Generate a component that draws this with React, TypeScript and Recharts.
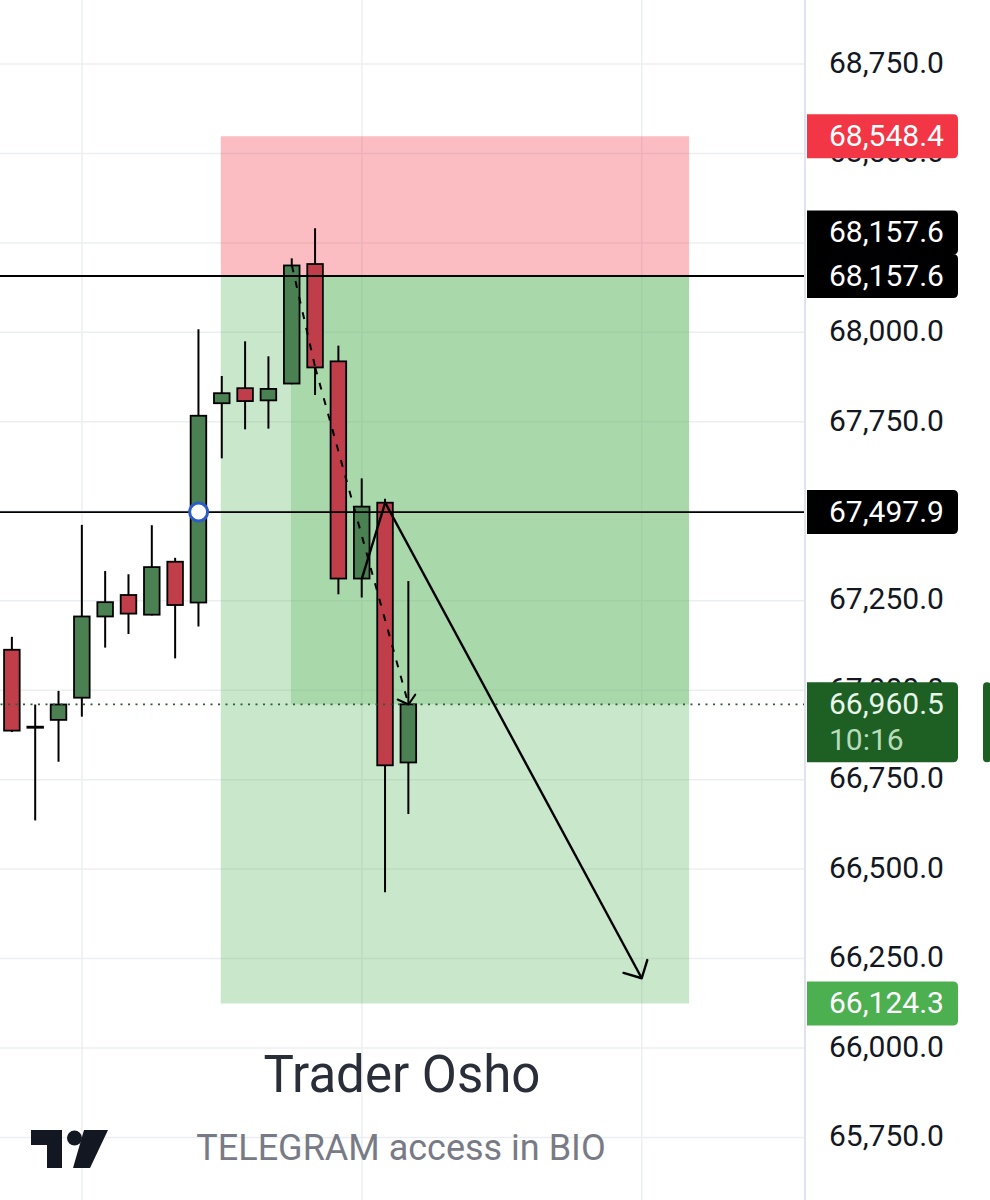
import React from 'react';
import {
  ComposedChart,
  Bar,
  XAxis,
  YAxis,
  CartesianGrid,
  ReferenceArea,
  ReferenceLine,
  ReferenceDot,
} from 'recharts';

// ---------- data ----------
const BAR_INDEX = [0, 1, 2, 3, 4, 5, 6, 7, 8, 9, 10, 11, 12, 13, 14, 15, 16, 17];
const OPEN = [67113, 66898, 66917, 66979, 67206, 67266, 67211, 67359, 67245, 67802, 67844, 67810, 67857, 68191, 67919, 67312, 67524, 66798];
const HIGH = [67149, 66960, 66998, 67462, 67333, 67324, 67461, 67370, 68009, 67878, 67975, 67933, 68207, 68291, 67963, 67592, 67535, 67305];
const LOW = [66883, 66636, 66800, 66926, 67119, 67157, 67209, 67089, 67178, 67648, 67729, 67731, 67855, 67825, 67268, 67259, 66435, 66654];
const CLOSE = [66887, 66895, 66960, 67206, 67246, 67214, 67344, 67238, 67767, 67830, 67808, 67842, 68187, 67902, 67312, 67513, 66790, 66960.5];

const Y_TICKS = [65750, 66000, 66250, 66500, 66750, 67000, 67250, 67500, 67750, 68000, 68250, 68500, 68750];
const GRID_X = [3, 15, 27];
const X_DOMAIN = [-0.516, 34.0];
const Y_DOMAIN = [65575.2, 68928.9];

const STOP_PRICE = 68548.4;
const ENTRY_PRICE = 68157.6;
const LEVEL_PRICE = 67497.9;
const CURRENT_PRICE = 66960.5;
const TARGET_PRICE = 66124.3;
const COUNTDOWN = '10:16';

const BOX_START = 8.95;
const BOX_END = 29.03;
const PROFIT_START = 11.96;

const DASHED_PATH = [
  { x: 12, y: 68187 },
  { x: 13, y: 67902 },
  { x: 17, y: 66960 },
];
const SOLID_PATH = [
  { x: 15, y: 67312 },
  { x: 16, y: 67524 },
  { x: 27, y: 66195 },
];
const MARKER = { x: 8, y: LEVEL_PRICE };

const TITLE = 'Trader Osho';
const SUBTITLE = 'TELEGRAM access in BIO';

// ---------- helpers ----------
const fmt = (v: number) => {
  const [i, d] = v.toFixed(1).split('.');
  return i.replace(/\B(?=(\d{3})+(?!\d))/g, ',') + '.' + d;
};

const GREEN = '#4a8052';
const RED = '#c03e4a';
const FONT = 'Roboto, "Noto Sans", sans-serif';
const AXIS_W = 185;

const data = BAR_INDEX.map((i, k) => ({
  i,
  o: OPEN[k],
  h: HIGH[k],
  l: LOW[k],
  c: CLOSE[k],
  hl: [LOW[k], HIGH[k]],
}));

const Candle = (props: any) => {
  const { x, y, width, height, payload } = props;
  if (x == null || y == null) return null;
  const cx = x + width / 2;
  const { o, h, l, c } = payload;
  const topPix = Math.min(y, y + height);
  const botPix = Math.max(y, y + height);
  const span = h - l || 1;
  const yAt = (v: number) => topPix + ((h - v) / span) * (botPix - topPix);
  const bTop = yAt(Math.max(o, c));
  const bBot = yAt(Math.min(o, c));
  const up = c >= o;
  return (
    <g>
      <line x1={cx} x2={cx} y1={topPix} y2={botPix} stroke="#000" strokeWidth={2} />
      <rect
        x={cx - 7.8}
        y={bTop}
        width={15.6}
        height={Math.max(bBot - bTop, 0.8)}
        fill={up ? GREEN : RED}
        stroke="#000"
        strokeWidth={1.8}
      />
    </g>
  );
};

const arrowShape = (dashed: boolean, head: number, spread: number, width: number) => (props: any) => {
  const { x1, y1, x2, y2 } = props;
  const ang = Math.atan2(y2 - y1, x2 - x1);
  const h1x = x2 - head * Math.cos(ang - spread);
  const h1y = y2 - head * Math.sin(ang - spread);
  const h2x = x2 - head * Math.cos(ang + spread);
  const h2y = y2 - head * Math.sin(ang + spread);
  return (
    <g>
      <line
        x1={x1}
        y1={y1}
        x2={x2}
        y2={y2}
        stroke="#000"
        strokeWidth={width}
        strokeDasharray={dashed ? '7 9' : undefined}
      />
      {head > 0 && (
        <polyline
          points={`${h1x},${h1y} ${x2},${y2} ${h2x},${h2y}`}
          fill="none"
          stroke="#000"
          strokeWidth={width}
          strokeLinecap="round"
          strokeLinejoin="round"
        />
      )}
    </g>
  );
};

const tagPath = (x0: number, y0: number, w: number, h: number, r: number) =>
  `M${x0},${y0} H${x0 + w - r} Q${x0 + w},${y0} ${x0 + w},${y0 + r} V${y0 + h - r} Q${x0 + w},${y0 + h} ${x0 + w - r},${y0 + h} H${x0} Z`;

const AxisTag = (props: any) => {
  const { viewBox, lines, fill, dy = 0, height = 44, colors, sideBar } = props;
  if (!viewBox) return null;
  const right = Math.max(viewBox.x, viewBox.x + viewBox.width);
  const y = viewBox.y + dy;
  const x0 = right + 2;
  const w = 151;
  const top = y - 22;
  return (
    <g>
      <path d={tagPath(x0, top, w, height, 5)} fill={fill} />
      {sideBar && <rect x={x0 + 176} y={top} width={8} height={height} rx={4} fill={fill} />}
      {lines.map((t: string, k: number) => (
        <text
          key={k}
          x={x0 + 22}
          y={y + k * 36}
          dy="0.33em"
          fontSize={30}
          fontFamily={FONT}
          fill={colors ? colors[k] : '#ffffff'}
        >
          {t}
        </text>
      ))}
    </g>
  );
};

const renderTick = (props: any) => {
  const { x, y, payload } = props;
  return (
    <text x={x} y={y} dy="0.29em" fontSize={30} fontFamily={FONT} fill="#131722" textAnchor="start">
      {fmt(payload.value)}
    </text>
  );
};

export default function App() {
  return (
    <div
      style={{
        position: 'absolute',
        left: 0,
        top: 0,
        width: 990,
        height: 1200,
        background: '#ffffff',
        overflow: 'hidden',
        fontFamily: FONT,
      }}
    >
      {/* main chart */}
      <ComposedChart
        width={990}
        height={1200}
        data={data}
        margin={{ top: 0, right: 0, bottom: 0, left: 0 }}
      >
        <CartesianGrid
          stroke="#eceef1"
          strokeWidth={1.5}
          horizontalValues={Y_TICKS}
          verticalValues={GRID_X}
        />
        <XAxis
          dataKey="i"
          type="number"
          domain={X_DOMAIN}
          allowDataOverflow
          ticks={GRID_X}
          hide
        />
        <YAxis
          orientation="right"
          width={AXIS_W}
          type="number"
          domain={Y_DOMAIN}
          allowDataOverflow
          ticks={Y_TICKS}
          interval={0}
          tickLine={false}
          tickSize={6}
          tickMargin={18}
          axisLine={{ stroke: '#e0e3eb', strokeWidth: 2 }}
          tick={renderTick}
        />

        {/* position tool */}
        <ReferenceArea
          x1={BOX_START}
          x2={BOX_END}
          y1={ENTRY_PRICE}
          y2={STOP_PRICE}
          fill="rgb(242,54,69)"
          fillOpacity={0.33}
          stroke="none"
        />
        <ReferenceArea
          x1={BOX_START}
          x2={BOX_END}
          y1={TARGET_PRICE}
          y2={ENTRY_PRICE}
          fill="rgb(76,175,80)"
          fillOpacity={0.3}
          stroke="none"
        />
        <ReferenceArea
          x1={PROFIT_START}
          x2={BOX_END}
          y1={CURRENT_PRICE}
          y2={ENTRY_PRICE}
          fill="rgb(76,175,80)"
          fillOpacity={0.25}
          stroke="none"
        />

        {/* horizontal levels */}
        <ReferenceLine y={ENTRY_PRICE} stroke="#000" strokeWidth={1.8} />
        <ReferenceLine y={LEVEL_PRICE} stroke="#000" strokeWidth={1.8} />
        <ReferenceLine y={CURRENT_PRICE} stroke="#2f5b37" strokeWidth={1.8} strokeDasharray="2 5.5" />

        {/* dashed path */}
        <ReferenceLine segment={[DASHED_PATH[0], DASHED_PATH[1]]} shape={arrowShape(true, 0, 0, 2)} />
        <ReferenceLine segment={[DASHED_PATH[1], DASHED_PATH[2]]} shape={arrowShape(true, 12, 0.87, 2)} />

        <Bar dataKey="hl" barSize={17} shape={Candle} isAnimationActive={false} />

        <ReferenceDot
          x={MARKER.x}
          y={MARKER.y}
          r={9}
          fill="#ffffff"
          stroke="#2b5cc8"
          strokeWidth={3}
        />

        {/* solid arrow */}
        <ReferenceLine segment={[SOLID_PATH[0], SOLID_PATH[1]]} shape={arrowShape(false, 0, 0, 2.4)} />
        <ReferenceLine segment={[SOLID_PATH[1], SOLID_PATH[2]]} shape={arrowShape(false, 19, 0.79, 2.4)} />
      </ComposedChart>

      {/* price-axis tags, drawn above the axis tick labels with the same scales */}
      <div style={{ position: 'absolute', left: 0, top: 0 }}>
        <ComposedChart
          width={990}
          height={1200}
          data={data}
          margin={{ top: 0, right: AXIS_W, bottom: 0, left: 0 }}
        >
          <XAxis dataKey="i" type="number" domain={X_DOMAIN} allowDataOverflow hide />
          <YAxis orientation="right" type="number" domain={Y_DOMAIN} allowDataOverflow hide />
          <ReferenceLine
            y={STOP_PRICE}
            stroke="none"
            label={<AxisTag lines={[fmt(STOP_PRICE)]} fill="#f23645" />}
          />
          <ReferenceLine
            y={ENTRY_PRICE}
            stroke="none"
            label={<AxisTag lines={[fmt(ENTRY_PRICE)]} fill="#000000" dy={-43.5} />}
          />
          <ReferenceLine
            y={ENTRY_PRICE}
            stroke="none"
            label={<AxisTag lines={[fmt(ENTRY_PRICE)]} fill="#000000" />}
          />
          <ReferenceLine
            y={LEVEL_PRICE}
            stroke="none"
            label={<AxisTag lines={[fmt(LEVEL_PRICE)]} fill="#000000" />}
          />
          <ReferenceLine
            y={TARGET_PRICE}
            stroke="none"
            label={<AxisTag lines={[fmt(TARGET_PRICE)]} fill="#4caf50" />}
          />
          <ReferenceLine
            y={CURRENT_PRICE}
            stroke="none"
            label={
              <AxisTag
                lines={[fmt(CURRENT_PRICE), COUNTDOWN]}
                fill="#1e5f24"
                height={80}
                colors={['#e8f5e9', '#b8dcb9']}
                sideBar
              />
            }
          />
        </ComposedChart>
      </div>

      <svg
        width={990}
        height={1200}
        style={{ position: 'absolute', left: 0, top: 0, pointerEvents: 'none' }}
      >
        <text x={402} y={1092} textAnchor="middle" fontSize={51} fontFamily={FONT} fill="#2a2e39">
          {TITLE}
        </text>
        <text x={401} y={1160} textAnchor="middle" fontSize={36} fontFamily={FONT} fill="#787b86">
          {SUBTITLE}
        </text>
        <g fill="#131722">
          <path d="M31,1130 H62 V1168 H47 V1145 H31 Z" />
          <circle cx={74.5} cy={1138} r={7.5} />
          <path d="M84,1130 H108 L90,1168 H73 Z" />
        </g>
      </svg>
    </div>
  );
}
